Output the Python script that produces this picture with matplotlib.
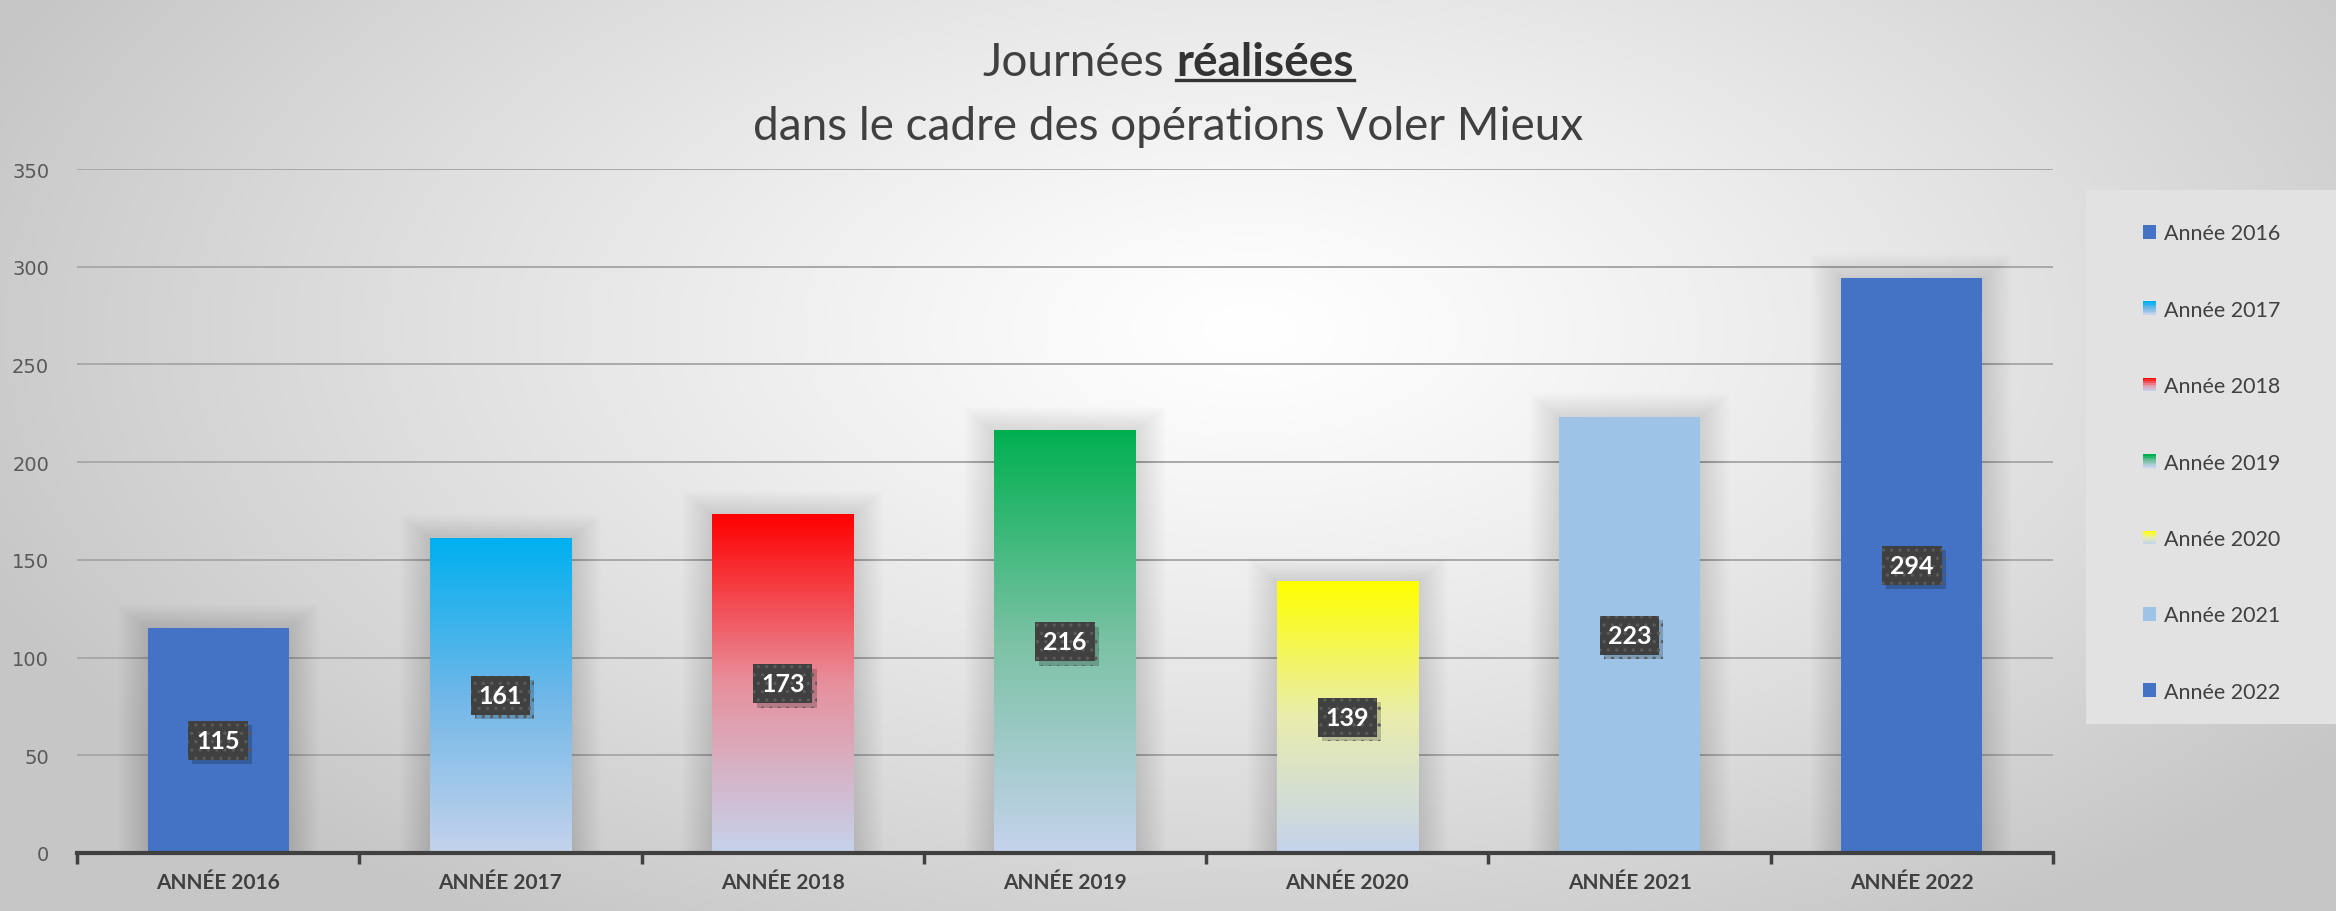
import numpy as np
import matplotlib
matplotlib.use('Agg')
import matplotlib.pyplot as plt
from matplotlib.patches import Rectangle
from matplotlib.lines import Line2D
from matplotlib.legend_handler import HandlerBase
from matplotlib import patheffects as pe
from matplotlib.colors import to_rgb

annees = ['2016', '2017', '2018', '2019', '2020', '2021', '2022']
journees = [115, 161, 173, 216, 139, 223, 294]

# couleurs des barres : haut, milieu, bas (degrade vertical)
c_haut = ['#4472C4', '#00B0F0', '#FF0000', '#00B050', '#FFFF00', '#9DC3E6', '#4472C4']
c_milieu = ['#4472C4', '#6FB7E8', '#E8909D', '#7BC2A5', '#E9EDAE', '#9DC3E6', '#4472C4']
c_bas = ['#4472C4', '#C5D3EC', '#C5D3EC', '#C5D3EC', '#C5D3EC', '#9DC3E6', '#4472C4']

plt.rcParams['hatch.color'] = '#5a5a5a'
plt.rcParams['hatch.linewidth'] = 1.2

W, H = 2336, 912
fig = plt.figure(figsize=(W / 100, H / 100), dpi=100)


def degrade(haut, milieu, bas, n):
    h, m, b = np.array(to_rgb(haut)), np.array(to_rgb(milieu)), np.array(to_rgb(bas))
    t = np.linspace(0, 1, n)[:, None]
    low = b + (m - b) * np.clip(t / 0.5, 0, 1)
    high = m + (h - m) * np.clip((t - 0.5) / 0.5, 0, 1)
    return np.where(t < 0.5, low, high)


# fond radial
bg = fig.add_axes([0, 0, 1, 1], zorder=-10)
yy, xx = np.mgrid[0:H, 0:W]
d = np.sqrt(((xx - 1250) / 1350.0) ** 2 + ((yy - 330) / 700.0) ** 2)
val = 1 - 0.22 * np.clip(d, 0, 1) ** 1.2
bg.imshow(np.dstack([val, val, val]), extent=(0, 1, 0, 1), aspect='auto')
bg.axis('off')

ax = fig.add_axes([77 / W, 1 - 854 / H, (2053 - 77) / W, (854 - 170) / H])
ax.set_facecolor('none')

x = np.arange(len(annees))
bars = ax.bar(x, journees, width=0.5, color=c_haut, zorder=3)

# ombres + degrades
for i, b in enumerate(bars):
    x0, w, h = b.get_x(), b.get_width(), b.get_height()
    for k in range(1, 16):
        ex = k * 2.0 / 282.0
        ey = k * 1.6 / 1.954
        ax.add_patch(Rectangle((x0 - ex, 0), w + 2 * ex, h + ey, facecolor='black',
                               edgecolor='none', alpha=0.009, zorder=2))
    if c_haut[i] != c_bas[i]:
        b.set_facecolor('none')
        img = degrade(c_haut[i], c_milieu[i], c_bas[i], 200)[:, None, :]
        ax.imshow(img, extent=(x0, x0 + w, 0, h), aspect='auto', origin='lower', zorder=3)

# etiquettes de valeurs
for i, b in enumerate(bars):
    v = journees[i]
    t = ax.text(b.get_x() + b.get_width() / 2, v / 2, str(v), ha='center', va='center',
                color='white', fontsize=18, fontweight='bold', family='Lato', zorder=6,
                bbox=dict(boxstyle='square,pad=0.32', fc='#404040', ec='#5a5a5a', lw=0, hatch='..'))
    t.get_bbox_patch().set_path_effects([pe.SimplePatchShadow(offset=(3, -3), shadow_rgbFace='black', alpha=0.2),
                                         pe.Normal()])

ax.set_xlim(-0.5, len(annees) - 0.5)
ax.set_ylim(0, 350)
ax.set_yticks(np.arange(0, 351, 50))
ax.yaxis.grid(True, color='#a9a9a9', lw=1.4)
ax.set_axisbelow(True)
for s in ['top', 'right', 'left']:
    ax.spines[s].set_visible(False)
ax.spines['bottom'].set_color('#404040')
ax.spines['bottom'].set_linewidth(3)
ax.spines['bottom'].set_zorder(5)
ax.tick_params(axis='y', length=0, labelsize=14, labelcolor='#595959', pad=20)
ax.set_xticks(x)
ax.set_xticklabels(['ANNÉE ' + a for a in annees], fontsize=15, fontweight='bold',
                   color='#404040', family='Lato')
ax.tick_params(axis='x', which='major', length=0, pad=14)
ax.set_xticks(np.arange(-0.5, len(annees), 1), minor=True)
ax.tick_params(axis='x', which='minor', length=8, width=2.5, color='#404040')

# legende
fig.add_artist(Rectangle((2086 / W, 1 - 725 / H), (W - 2086) / W, 534 / H, transform=fig.transFigure,
                         facecolor='#e2e2e2', edgecolor='none', zorder=-5))


class Degrade(HandlerBase):
    def __init__(self, i):
        super().__init__()
        self.i = i

    def create_artists(self, legend, orig_handle, xdescent, ydescent, width, height, fontsize, trans):
        n = 8
        cols = degrade(c_haut[self.i], c_milieu[self.i], c_bas[self.i], n)
        return [Rectangle((-xdescent, -ydescent + height * k / n), width, height / n,
                          facecolor=cols[k], edgecolor='none', transform=trans) for k in range(n)]


handles = [Rectangle((0, 0), 1, 1) for _ in annees]
hmap = {h: Degrade(i) for i, h in enumerate(handles)}
fig.legend(handles, ['Année ' + a for a in annees], handler_map=hmap, loc='upper left',
           bbox_to_anchor=(2124 / W, 1 - 205 / H), frameon=False, prop={'family': 'Lato', 'size': 15.5},
           labelcolor='#404040', labelspacing=2.62, handlelength=0.6, handleheight=0.6, handletextpad=0.35)

# titre
fig.canvas.draw()
r = fig.canvas.get_renderer()
fs = 33
t1 = fig.text(0, 1 - 76 / H, 'Journées', fontsize=fs, family='Lato', fontweight='normal',
              color='#404040')
t2 = fig.text(0, 1 - 76 / H, 'réalisées', fontsize=fs, family='Lato', fontweight='bold',
              color='#333333')
w1 = t1.get_window_extent(r).width
w2 = t2.get_window_extent(r).width
gap = 12
x0 = W / 2 - (w1 + gap + w2) / 2
t1.set_x(x0 / W)
t2.set_x((x0 + w1 + gap) / W)
bb = t2.get_window_extent(r)
fig.add_artist(Line2D([bb.x0 / W, bb.x1 / W], [(bb.y0 + 3) / H] * 2, transform=fig.transFigure,
                      color='#333333', lw=2.4))
fig.text(0.5, 1 - 140 / H, 'dans le cadre des opérations Voler Mieux', ha='center', fontsize=fs,
         family='Lato', fontweight='normal', color='#404040')

fig.savefig('out.png', dpi=100)
